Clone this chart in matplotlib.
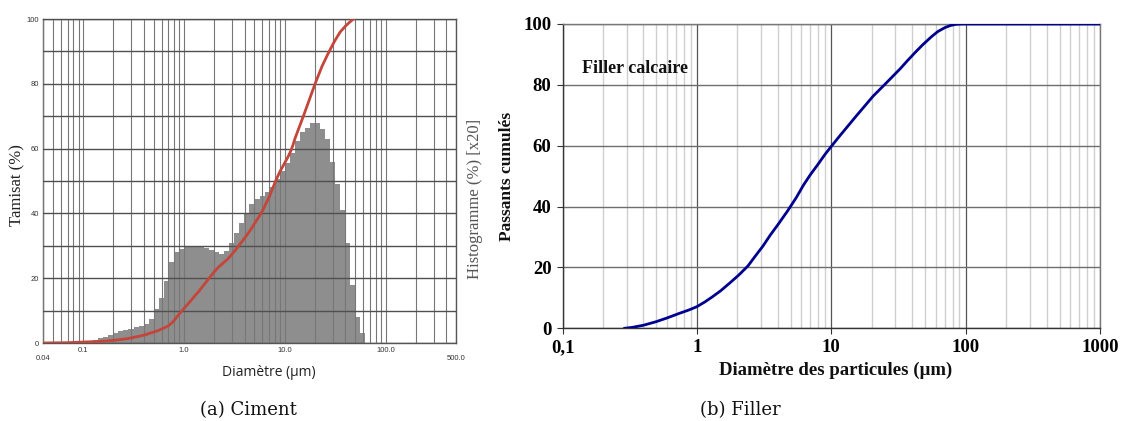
import numpy as np
import matplotlib
matplotlib.use("Agg")
import matplotlib.pyplot as plt
from matplotlib.ticker import FixedLocator, NullFormatter, LogLocator

# ---------------- Data: (a) Ciment ----------------
ciment_hist_start = 0.1          # µm, left edge of first histogram bin
ciment_hist_step_dec = 0.05      # bin width in decades
ciment_hist_values = [
    0.3, 0.6, 1.0, 1.5, 2.0, 2.6, 3.1, 3.6, 4.0, 4.4,
    4.8, 5.2, 6.0, 7.5, 10.5, 14.0, 19.0, 25.0, 28.0, 29.0,
    29.5, 30.0, 30.0, 29.7, 29.3, 28.7, 28.0, 27.6, 28.5, 31.0,
    34.0, 37.0, 40.0, 43.0, 44.5, 45.5, 46.5, 48.0, 50.5, 53.0,
    55.5, 58.5, 62.5, 65.0, 66.5, 68.0, 68.0, 66.0, 63.0, 56.0,
    49.0, 41.0, 31.0, 18.0, 8.0, 3.0,
]
ciment_cum_d = [0.04, 0.07, 0.1, 0.15, 0.2, 0.27, 0.35, 0.42, 0.48, 0.55,
                0.6, 0.65, 0.7, 0.76, 0.82, 0.89, 0.96, 1.05, 1.15, 1.28,
                1.41, 1.6, 1.8, 2.0, 2.2, 2.45, 2.7, 3.0, 3.3, 3.7,
                4.14, 4.6, 5.0, 5.5, 6.07, 6.5, 7.0, 7.6, 8.25, 9.0,
                10.0, 10.8, 11.5, 12.1, 12.6, 13.5, 15.3, 17.5, 20.0, 23.5,
                27.3, 31.0, 35.5, 40.0, 44.0, 48.0]
ciment_cum_v = [0.0, 0.1, 0.3, 0.5, 0.8, 1.3, 2.0, 2.6, 3.2, 3.8,
                4.3, 4.8, 5.3, 6.2, 7.4, 8.8, 10.0, 11.4, 12.8, 14.5,
                16.0, 18.2, 20.2, 22.0, 23.4, 24.7, 25.8, 27.4, 29.0, 31.0,
                33.0, 35.0, 36.8, 38.8, 41.0, 43.0, 45.0, 47.8, 50.5, 53.0,
                55.6, 57.5, 59.3, 61.2, 63.0, 65.5, 70.0, 75.0, 80.0, 85.5,
                89.7, 93.0, 96.0, 97.8, 99.0, 100.0]
ciment_xticks = [0.04, 0.1, 1.0, 10.0, 100.0, 500.0]
ciment_xticklabels = ["\n0.04", "0.1", "1.0", "10.0", "100.0", "\n500.0"]
ciment_yticks = [0, 20, 40, 60, 80, 100]

# ---------------- Data: (b) Filler ----------------
filler_d = [0.288, 0.33, 0.4, 0.5, 0.6, 0.75, 0.87, 1.0, 1.15, 1.3,
            1.5, 1.77, 2.05, 2.4, 2.75, 3.1, 3.5, 4.0, 4.72, 5.5,
            6.2, 6.97, 8.0, 9.0, 10.1, 11.7, 13.5, 15.3, 17.4, 20.5,
            25.9, 32.6, 37.0, 42.0, 48.0, 55.6, 62.0, 70.0, 77.0, 85.0,
            95.0, 1000.0]
filler_v = [0.0, 0.3, 1.0, 2.2, 3.4, 5.0, 6.0, 7.1, 8.7, 10.3,
            12.3, 15.0, 17.5, 20.5, 24.0, 27.0, 30.5, 34.0, 38.5, 43.0,
            47.0, 50.4, 54.0, 57.2, 60.0, 63.5, 66.8, 69.7, 72.6, 76.3,
            80.8, 85.3, 88.0, 90.6, 93.2, 95.8, 97.5, 98.8, 99.5, 99.9,
            100.0, 100.0]
filler_xticks = [0.1, 1, 10, 100, 1000]
filler_xticklabels = ["0,1", "1", "10", "100", "1000"]
filler_yticks = [0, 20, 40, 60, 80, 100]

W, H = 1122, 421
fig = plt.figure(figsize=(W / 100, H / 100), dpi=100)

def fx(px):
    return px / W

def fy(py):
    return 1 - py / H

# ---------------- Left panel ----------------
axL = fig.add_axes([fx(43), fy(343), fx(456 - 43), (343 - 19) / H])
edges = ciment_hist_start * 10 ** (ciment_hist_step_dec * np.arange(len(ciment_hist_values) + 1))
axL.stairs(ciment_hist_values, edges, fill=True, color="#8e8e8e", linewidth=0, zorder=1)
axL.plot(ciment_cum_d, ciment_cum_v, color="#c4453a", lw=2.0, zorder=4,
         solid_capstyle="round", solid_joinstyle="round")
axL.set_xscale("log")
axL.set_xlim(0.04, 500)
axL.set_ylim(0, 100)
axL.xaxis.set_major_locator(FixedLocator(ciment_xticks))
axL.set_xticklabels(ciment_xticklabels)
axL.xaxis.set_minor_locator(LogLocator(base=10, subs=np.arange(1, 10) * 1.0, numticks=20))
axL.xaxis.set_minor_formatter(NullFormatter())
axL.set_yticks(ciment_yticks)
axL.set_yticks(np.arange(0, 101, 10), minor=True)
axL.set_yticklabels([str(v) for v in ciment_yticks])
axL.tick_params(which="both", length=0, labelsize=5.5, labelcolor="#333333",
                pad=3)
for lab in axL.get_xticklabels() + axL.get_yticklabels():
    lab.set_family("Liberation Sans")
axL.set_axisbelow(False)
axL.grid(True, which="both", axis="x", color="#777777", lw=0.8, zorder=3)
axL.grid(True, which="both", axis="y", color="#505050", lw=1.0, zorder=3)
for s in axL.spines.values():
    s.set_color("#555555")
    s.set_linewidth(1.0)

fig.text(fx(17), fy(185), "Tamisat (%)", rotation=90, ha="center", va="center",
         family="Liberation Serif", fontsize=12, color="#222222")
fig.text(fx(269), fy(372), "Diamètre (µm)", ha="center", va="center",
         family="Open Sans", fontsize=10, color="#222222")
fig.text(fx(475), fy(199), "Histogramme (%) [x20]", rotation=90, ha="center",
         va="center", family="Liberation Serif", fontsize=12, color="#555555")

# ---------------- Right panel ----------------
axR = fig.add_axes([fx(562.5), fy(328.3), fx(1100 - 562.5), (328.3 - 24) / H])
axR.plot(filler_d, filler_v, color="#00008f", lw=2.0, zorder=4,
         solid_joinstyle="round", solid_capstyle="round")
axR.set_xscale("log")
axR.set_xlim(0.1, 1000)
axR.set_ylim(0, 100)
axR.xaxis.set_major_locator(FixedLocator(filler_xticks))
axR.set_xticklabels(filler_xticklabels)
axR.xaxis.set_minor_locator(LogLocator(base=10, subs=np.arange(2, 10) * 1.0, numticks=20))
axR.xaxis.set_minor_formatter(NullFormatter())
axR.set_yticks(filler_yticks)
axR.tick_params(which="major", length=4, width=0.8, color="#333333",
                labelsize=13.5, pad=4)
axR.tick_params(which="minor", length=0)
for lab in axR.get_xticklabels() + axR.get_yticklabels():
    lab.set_family("Liberation Serif")
    lab.set_fontweight("bold")
axR.set_axisbelow(True)
axR.grid(True, which="minor", axis="x", color="#cfcfcf", lw=1.0)
axR.grid(True, which="major", axis="x", color="#555555", lw=0.9)
axR.grid(True, which="major", axis="y", color="#6e6e6e", lw=1.0)
for name, s in axR.spines.items():
    s.set_color("#333333" if name in ("left", "bottom") else "#777777")
    s.set_linewidth(1.0)

axR.text(0.036, 0.855, "Filler calcaire", transform=axR.transAxes,
         family="Liberation Serif", fontweight="bold", fontsize=13,
         ha="left", va="center", color="#111111")
fig.text(fx(507), fy(176), "Passants cumulés", rotation=90, ha="center",
         va="center", family="Liberation Serif", fontweight="bold",
         fontsize=12.5, color="#111111")
fig.text(fx(836), fy(370), "Diamètre des particules (µm)", ha="center",
         va="center", family="Liberation Serif", fontweight="bold",
         fontsize=13.5, color="#111111")

# ---------------- Captions ----------------
fig.text(fx(248), fy(410), "(a) Ciment", ha="center", va="center",
         family="DejaVu Serif", fontsize=13, color="#111111")
fig.text(fx(740), fy(410), "(b) Filler", ha="center", va="center",
         family="DejaVu Serif", fontsize=13, color="#111111")

fig.savefig("out.png", dpi=100)
